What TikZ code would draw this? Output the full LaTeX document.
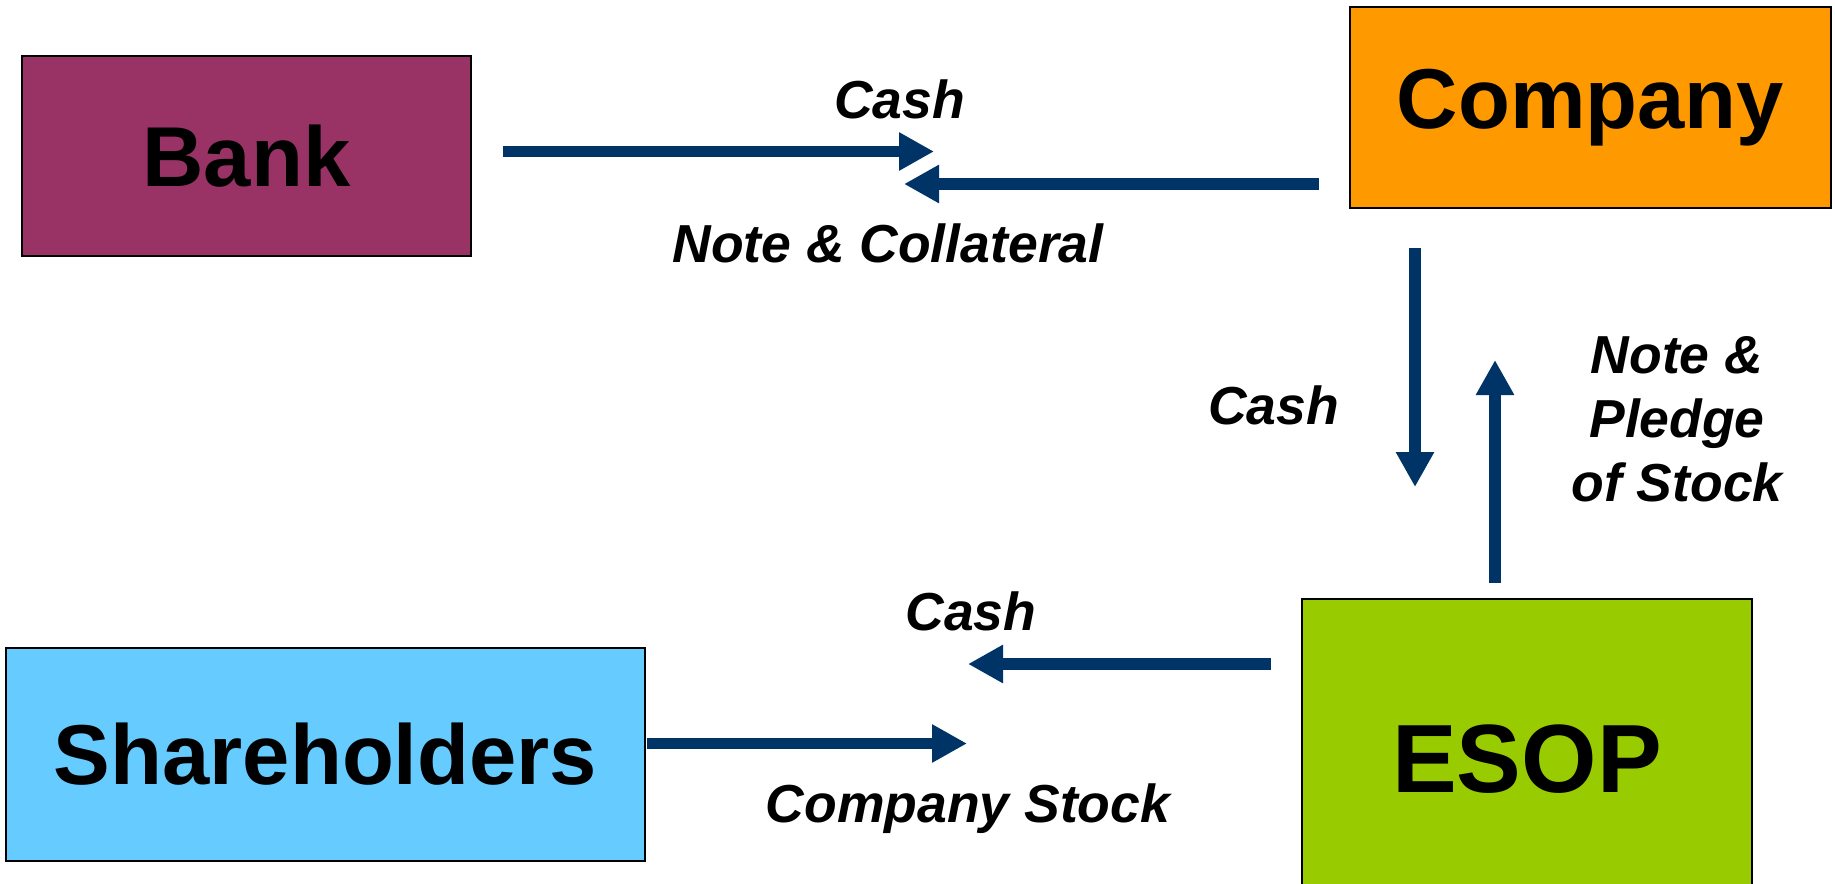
\documentclass[tikz,border=0pt]{standalone}
\usepackage{fontspec}
\setmainfont{Liberation Sans}
\usetikzlibrary{arrows.meta}
\definecolor{bankfill}{HTML}{993366}
\definecolor{companyfill}{HTML}{FF9900}
\definecolor{holderfill}{HTML}{66CCFF}
\definecolor{esopfill}{HTML}{99CC00}
\definecolor{flownavy}{HTML}{003366}
\tikzset{
  party/.style={draw=black, line width=1.5pt, rectangle, inner sep=0pt,
    font=\fontsize{85}{100}\selectfont\bfseries},
  flow/.style={draw=flownavy, line width=11.5pt,
    -{Triangle[length=35pt,width=36pt]}},
  flowlabel/.style={inner sep=0pt, anchor=base,
    font=\fontsize{53.5}{64}\selectfont\bfseries\itshape},
}
\begin{document}
\begin{tikzpicture}[x=1pt,y=-1pt]
\useasboundingbox (0,0) rectangle (1835,883);
\clip (0,0) rectangle (1835,883);

% the four parties
\node[party, fill=bankfill, minimum width=449pt, minimum height=200pt] (bank) at (246.5,156) {Bank};
\node[party, fill=companyfill, minimum width=481pt, minimum height=201pt] (company) at (1590.5,107.5) {Company};
\node[party, fill=holderfill, minimum width=639pt, minimum height=213pt] (holders) at (325.5,754.5) {Shareholders};
\node[party, fill=esopfill, minimum width=450pt, minimum height=320pt,
      font=\fontsize{97}{114}\selectfont\bfseries] (esop) at (1527,759) {ESOP};

% arrow end points
\coordinate (bankout) at (503,151.5);   \coordinate (banktip) at (934,151.5);
\coordinate (compout) at (1319,184);    \coordinate (comptip) at (904,184);
\coordinate (downout) at (1415,248);    \coordinate (downtip) at (1415,487);
\coordinate (upout)   at (1495,583);    \coordinate (uptip)   at (1495,360);
\coordinate (esopout) at (1271,664);    \coordinate (esoptip) at (968,664);
\coordinate (holdout) at (647,743.5);   \coordinate (holdtip) at (967,743.5);

% flows
\draw[flow] (bankout) -- (banktip);
\draw[flow] (compout) -- (comptip);
\draw[flow] (downout) -- (downtip);
\draw[flow] (upout) -- (uptip);
\draw[flow] (esopout) -- (esoptip);
\draw[flow] (holdout) -- (holdtip);

% flow labels
\node[flowlabel] (cashloan) at (899.5,118) {Cash};
\node[flowlabel] (collateral) at (888,262) {Note \& Collateral};
\node[flowlabel] (cashdown) at (1273.5,424) {Cash};
\node[flowlabel, anchor=north, align=center] (pledge) at (1677,336) {Note \&\\Pledge\\of Stock};
\node[flowlabel] (cashbuy) at (971,630) {Cash};
\node[flowlabel] (stock) at (968,822) {Company Stock};
\end{tikzpicture}
\end{document}
